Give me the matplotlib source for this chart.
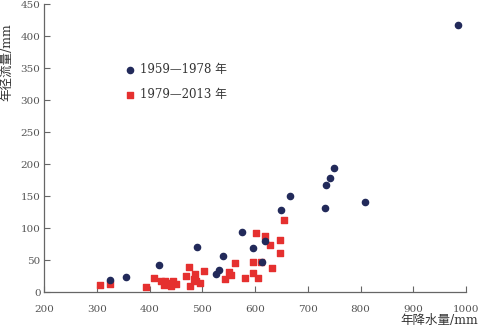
import matplotlib
matplotlib.use("Agg")
import matplotlib.pyplot as plt

plt.rcParams['font.family'] = ['DejaVu Serif', 'Noto Sans CJK SC', 'DejaVu Sans']

# 1959-1978
p_early = [325, 355, 418, 489, 525, 531, 540, 575, 596, 618, 614, 650, 667,
           733, 735, 743, 750, 808, 984]
r_early = [19, 24, 42, 71, 28, 35, 57, 94, 69, 80, 48, 128, 151,
           132, 168, 179, 194, 141, 417]

# 1979-2013
p_late = [306, 325, 393, 408, 421, 430, 428, 436, 441, 445, 450, 470, 474, 476,
          486, 484, 488, 496, 504, 543, 550, 555, 562, 581, 602, 597, 597, 606,
          611, 619, 628, 633, 647, 648, 655]
r_late = [11, 13, 8, 23, 17, 18, 11, 14, 10, 17, 13, 26, 40, 9,
          28, 21, 18, 14, 33, 20, 31, 27, 45, 22, 92, 47, 30, 22,
          47, 88, 74, 38, 81, 61, 113]

fig = plt.figure(figsize=(4.79, 3.28), dpi=100)
ax = fig.add_axes([0.092, 0.109, 0.881, 0.878])

ax.scatter(p_early, r_early, s=20, marker='o', color='#222a5a', label='1959—1978 年', zorder=3)
ax.scatter(p_late, r_late, s=24, marker='s', color='#e5302f', label='1979—2013 年', zorder=2)

ax.set_xlim(200, 1000)
ax.set_ylim(0, 450)
ax.set_xticks(range(200, 1001, 100))
ax.set_yticks(range(0, 451, 50))
ax.tick_params(direction='in', length=4, width=0.8, colors='#666666',
               labelcolor='#555555', labelsize=7.5)
ax.tick_params(axis='x', pad=9)
ax.tick_params(axis='y', pad=2.5)
for s in ['top', 'right']:
    ax.spines[s].set_visible(False)
for s in ['left', 'bottom']:
    ax.spines[s].set_color('#666666')
    ax.spines[s].set_linewidth(0.9)

ax.set_ylabel('年径流量/mm', fontsize=9, color='#333333')
ax.yaxis.set_label_coords(-0.072, 0.80)
ax.set_xlabel('年降水量/mm', fontsize=9, color='#333333', ha='right')
ax.xaxis.set_label_coords(1.028, -0.075)

ax.legend(loc='upper left', bbox_to_anchor=(0.19, 0.795), frameon=False,
          fontsize=8.5, handletextpad=0.3, labelspacing=1.0, borderaxespad=0,
          borderpad=0, handlelength=1.0, labelcolor='#333333')

fig.savefig('out.png', dpi=100)
